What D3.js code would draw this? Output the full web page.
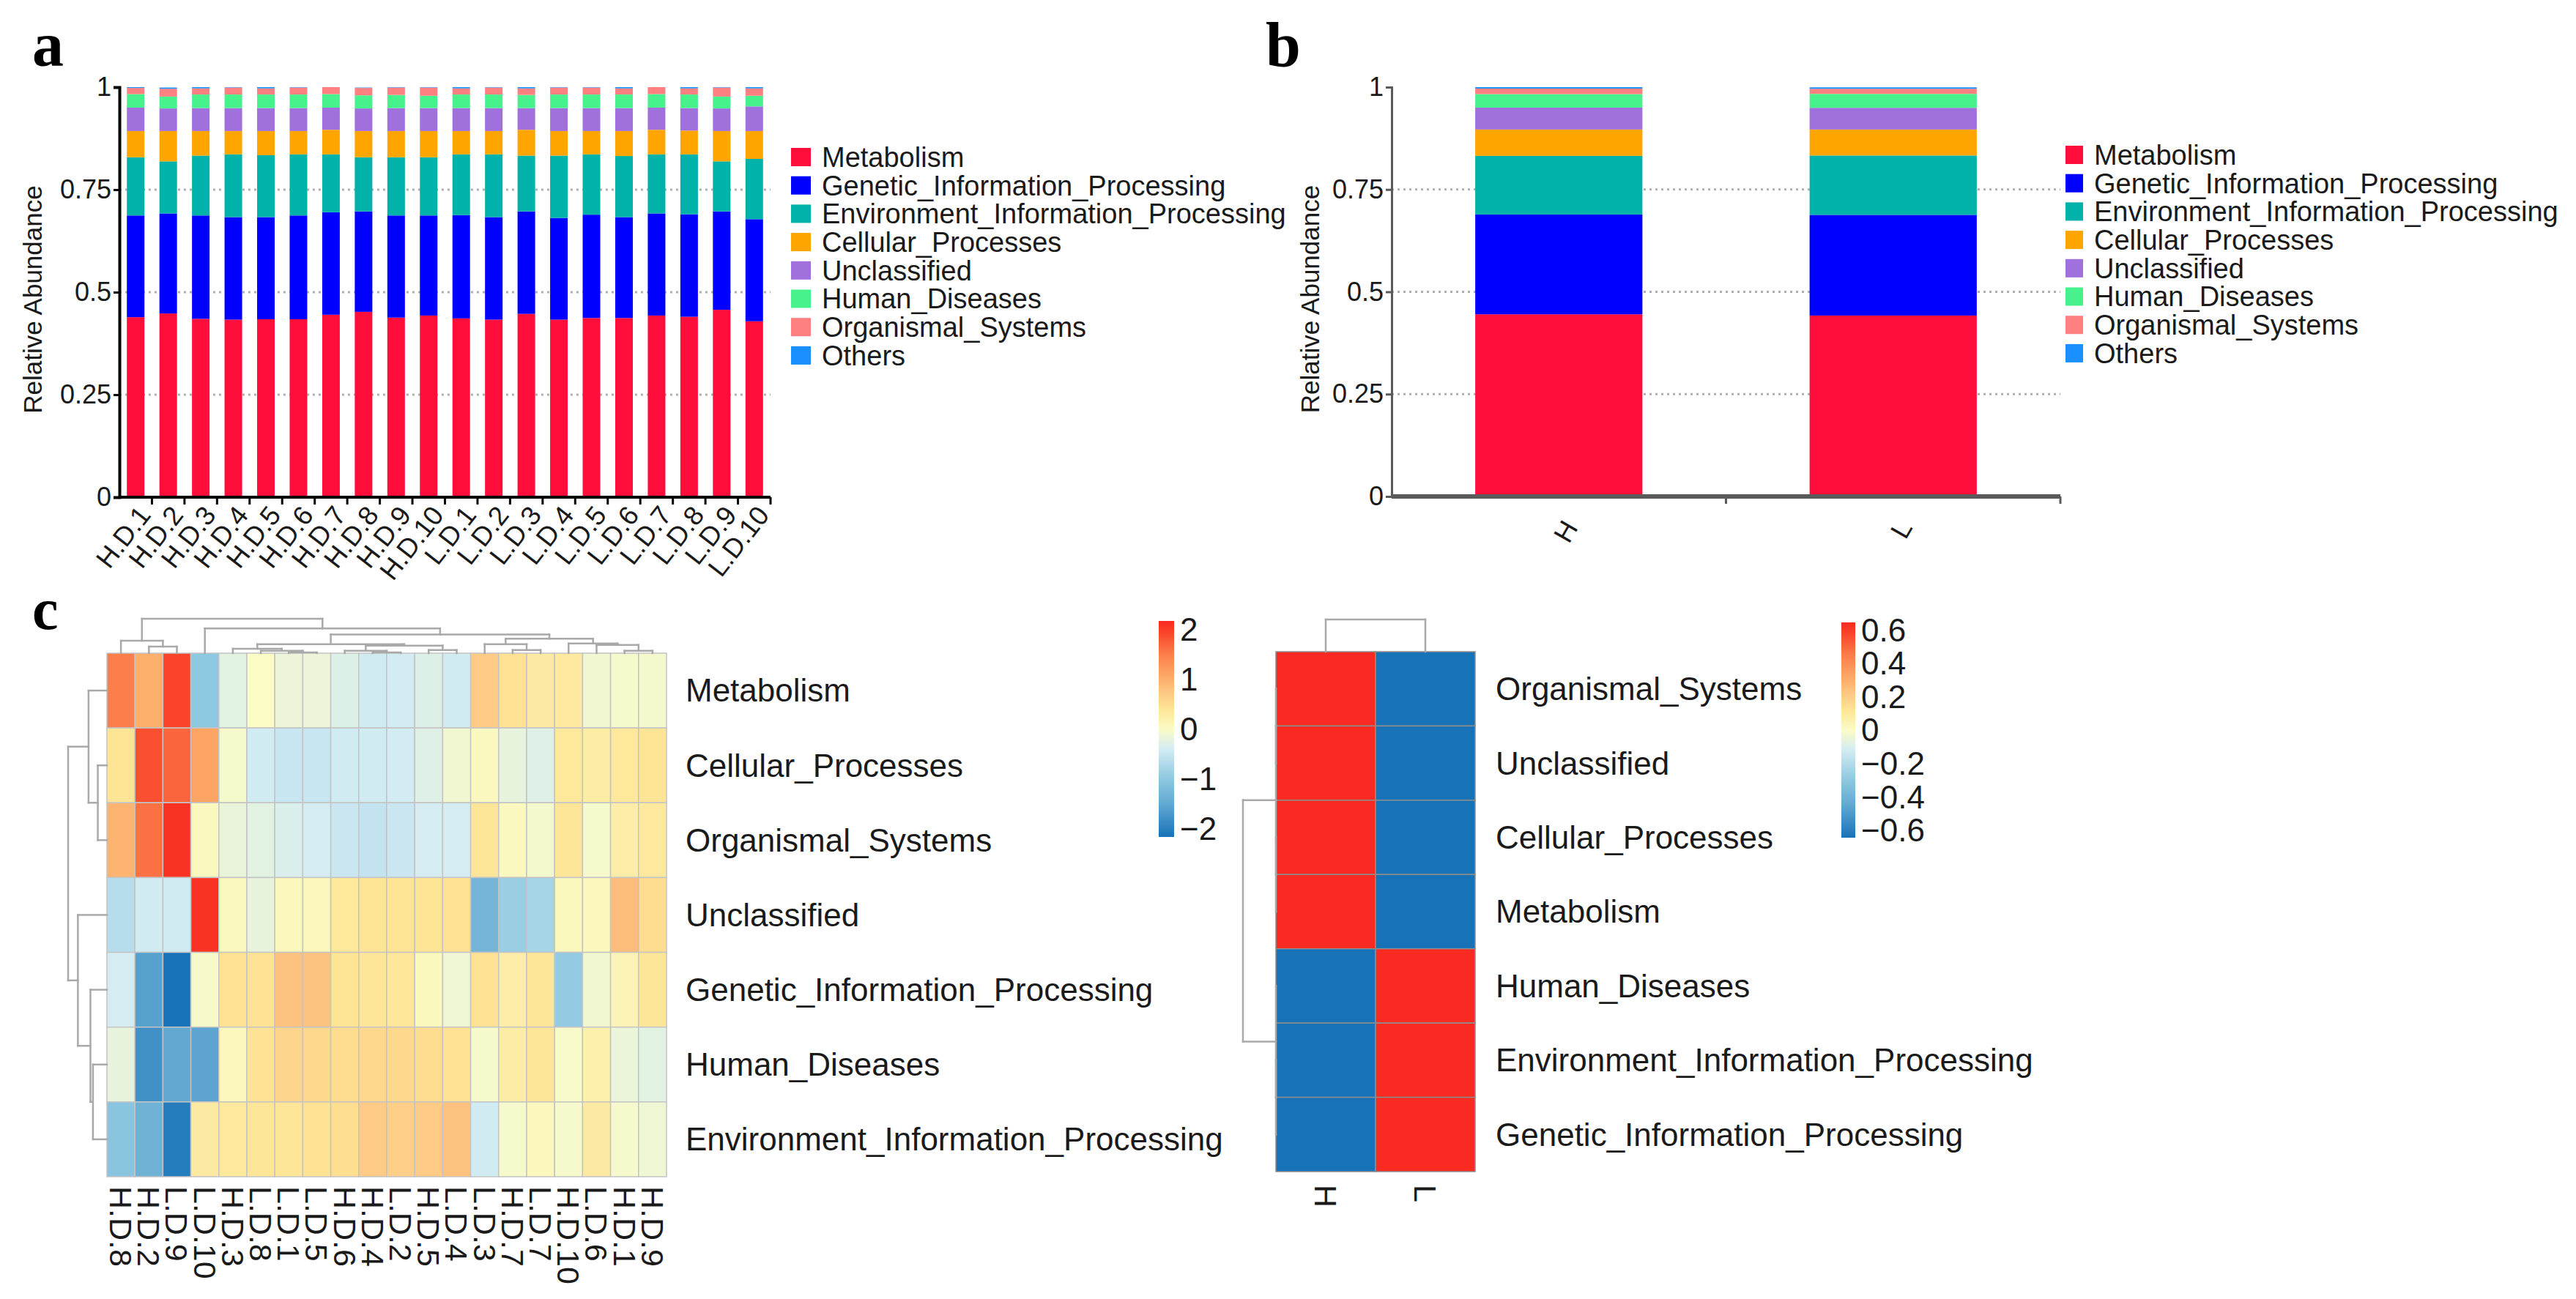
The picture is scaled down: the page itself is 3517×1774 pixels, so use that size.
<!DOCTYPE html>
<html>
<head>
<meta charset="utf-8">
<script src="https://cdn.jsdelivr.net/npm/d3@7"></script>
<style>
body { margin: 0; background: #fff; }
text { font-family: "Liberation Sans", Arial, sans-serif; fill: #1a1a1a; }
.panel { font-family: "Liberation Serif", "DejaVu Serif", serif; font-weight: bold; fill: #000; }
</style>
</head>
<body>
<div id="chart"></div>
<script>
// ---- data ----
var samples = ["H.D.1","H.D.2","H.D.3","H.D.4","H.D.5","H.D.6","H.D.7","H.D.8","H.D.9","H.D.10",
               "L.D.1","L.D.2","L.D.3","L.D.4","L.D.5","L.D.6","L.D.7","L.D.8","L.D.9","L.D.10"];
var categories = ["Metabolism","Genetic_Information_Processing","Environment_Information_Processing",
                  "Cellular_Processes","Unclassified","Human_Diseases","Organismal_Systems","Others"];
var catColors = ["#FF0D3B","#0000FF","#00B2A9","#FFA500","#A070DC","#47F28D","#FF8080","#1A8FFF"];

// relative abundance per sample (panel a)
var metabolism   = [0.439,0.448,0.435,0.433,0.434,0.434,0.445,0.452,0.438,0.443,0.436,0.433,0.447,0.433,0.437,0.437,0.443,0.440,0.457,0.429];
var genetic      = [0.248,0.244,0.252,0.250,0.249,0.253,0.250,0.245,0.249,0.244,0.252,0.250,0.250,0.248,0.252,0.246,0.249,0.250,0.240,0.249];
var environment  = [0.142,0.127,0.146,0.153,0.151,0.149,0.141,0.132,0.142,0.142,0.148,0.153,0.136,0.152,0.147,0.149,0.144,0.146,0.122,0.147];
var cellular     = [0.064,0.074,0.060,0.057,0.059,0.057,0.060,0.064,0.064,0.064,0.057,0.057,0.063,0.060,0.057,0.061,0.060,0.058,0.074,0.068];
var unclassified = [0.057,0.055,0.056,0.056,0.056,0.056,0.054,0.055,0.056,0.056,0.056,0.056,0.053,0.056,0.056,0.056,0.054,0.055,0.055,0.060];
var human        = [0.033,0.029,0.033,0.033,0.033,0.033,0.033,0.032,0.032,0.030,0.033,0.033,0.032,0.033,0.033,0.033,0.033,0.033,0.029,0.026];
var organismal   = [0.015,0.019,0.015,0.017,0.015,0.017,0.017,0.018,0.018,0.020,0.015,0.017,0.016,0.017,0.017,0.015,0.017,0.015,0.022,0.018];
var others       = [0.003,0.003,0.003,0.001,0.003,0.001,0.001,0.001,0.001,0.001,0.003,0.001,0.003,0.001,0.001,0.003,0.001,0.003,0.001,0.003];
var seriesA = [metabolism, genetic, environment, cellular, unclassified, human, organismal, others];

// group means (panel b)
var groups = ["H","L"];
var grpMetabolism = [0.445,0.442];
var grpGenetic = [0.244,0.246];
var grpEnvironment = [0.143,0.145];
var grpCellular = [0.0645,0.0635];
var grpUnclassified = [0.0535,0.053];
var grpHuman = [0.033,0.034];
var grpOrganismal = [0.0135,0.0125];
var grpOthers = [0.0035,0.0035];
var seriesB = [grpMetabolism, grpGenetic, grpEnvironment, grpCellular, grpUnclassified, grpHuman, grpOrganismal, grpOthers];

var yTicks = [0, 0.25, 0.5, 0.75, 1];
var gridTicks = [0.25, 0.5, 0.75];

// heatmap c (left): row-scaled values, columns in clustered order
var rowsL = ["Metabolism","Cellular_Processes","Organismal_Systems","Unclassified",
             "Genetic_Information_Processing","Human_Diseases","Environment_Information_Processing"];
var colsL = ["H.D.8","H.D.2","L.D.9","L.D.10","H.D.3","L.D.8","L.D.1","L.D.5","H.D.6","H.D.4",
             "L.D.2","H.D.5","L.D.4","L.D.3","H.D.7","L.D.7","H.D.10","L.D.6","H.D.1","H.D.9"];
var zMetabolism   = [1.5,1.0,1.95,-1.0,-0.25,0.0,-0.15,-0.15,-0.3,-0.42,-0.4,-0.3,-0.42,0.7,0.45,0.3,0.32,-0.1,-0.05,-0.07];
var zCellular     = [0.4,1.85,1.7,1.1,-0.05,-0.42,-0.5,-0.5,-0.42,-0.42,-0.4,-0.28,-0.1,0.05,-0.2,-0.28,0.35,0.28,0.35,0.4];
var zOrganismal   = [0.95,1.6,2.1,0.05,-0.18,-0.25,-0.33,-0.38,-0.48,-0.55,-0.48,-0.38,-0.38,0.38,0.05,-0.07,0.38,-0.05,0.25,0.33];
var zUnclassified = [-0.65,-0.42,-0.42,2.1,0.05,-0.2,0.08,0.08,0.35,0.4,0.4,0.4,0.45,-1.3,-0.9,-0.8,0.06,0.08,0.85,0.5];
var zGenetic      = [-0.38,-1.6,-2.2,-0.04,0.45,0.42,0.8,0.8,0.4,0.38,0.36,0.06,-0.12,0.45,0.25,0.38,-0.95,-0.1,0.12,0.38];
var zHuman        = [-0.2,-1.8,-1.5,-1.55,0.08,0.42,0.58,0.55,0.5,0.55,0.55,0.5,0.45,-0.05,0.28,0.38,-0.03,0.2,-0.17,-0.25];
var zEnvironment  = [-1.05,-1.35,-2.05,0.3,0.33,0.38,0.38,0.42,0.47,0.7,0.65,0.7,0.8,-0.42,-0.06,0.08,-0.06,0.3,-0.06,-0.12];
var leftZ = [zMetabolism, zCellular, zOrganismal, zUnclassified, zGenetic, zHuman, zEnvironment];
var leftTicks = [2, 1, 0, -1, -2];

// dendrograms: [height, left, right], leaves are names
var colTreeL = [1.0, [0.36, "H.D.8", [0.19, "H.D.2", "L.D.9"]],
  [0.72, "L.D.10", [0.54,
    [0.26, [0.13, "H.D.3", [0.07, "L.D.8", [0.02, "L.D.1", "L.D.5"]]],
           [0.22, [0.07, "H.D.6", [0.02, "H.D.4", "L.D.2"]], [0.09, "H.D.5", "L.D.4"]]],
    [0.42, [0.26, "L.D.3", [0.09, "H.D.7", "L.D.7"]],
           [0.28, "H.D.10", [0.24, "L.D.6", [0.07, "H.D.1", "H.D.9"]]]]]]];
var rowTreeL = [1.0, [0.474, "Metabolism", [0.235, "Cellular_Processes", "Organismal_Systems"]],
  [0.748, "Unclassified", [0.425, "Genetic_Information_Processing", [0.36, "Human_Diseases", "Environment_Information_Processing"]]]];

// heatmap c (right): group means, row-scaled
var rowsR = ["Organismal_Systems","Unclassified","Cellular_Processes","Metabolism",
             "Human_Diseases","Environment_Information_Processing","Genetic_Information_Processing"];
var colsR = ["H","L"];
var zGroupH = [0.707,0.707,0.707,0.707,-0.707,-0.707,-0.707];
var zGroupL = [-0.707,-0.707,-0.707,-0.707,0.707,0.707,0.707];
var rightTicks = [0.6, 0.4, 0.2, 0, -0.2, -0.4, -0.6];
var colTreeR = [1.0, "H", "L"];
var rowTreeR = [1.0, [0, [0, "Organismal_Systems", "Unclassified"], [0, "Cellular_Processes", "Metabolism"]],
  [0, "Human_Diseases", [0, "Environment_Information_Processing", "Genetic_Information_Processing"]]];

// colour ramp (blue - pale yellow - red)
var rampStops  = [0, 0.154, 0.27, 0.408, 0.5, 0.592, 0.684, 0.73, 0.846, 0.96, 1];
var rampColors = ["#1872B8","#62A9D2","#8EC8E0","#D3ECF4","#FBFBC5","#FEE596","#FDC27F","#FDAF6C","#FC7E4A","#F93D27","#F92A21"];

// ---- drawing ----
var svg = d3.select("#chart").append("svg").attr("width", 3517).attr("height", 1774);
var fmt = d3.format("");

function stackedPanel(g, cats, xs, ys, series, x0, x1, opts) {
  var table = cats.map(function(c, i) {
    var o = { name: c };
    categories.forEach(function(k, j) { o[k] = series[j][i]; });
    return o;
  });
  var stack = d3.stack().keys(categories)(table);

  g.selectAll(".grid").data(gridTicks).join("line")
    .attr("x1", x0).attr("x2", x1).attr("y1", ys).attr("y2", ys)
    .attr("stroke", "#b0b0b0").attr("stroke-width", 3).attr("stroke-dasharray", "3,5");

  g.selectAll(".layer").data(stack).join("g")
    .attr("fill", function(d, i) { return catColors[i]; })
    .selectAll("rect").data(function(d) { return d; }).join("rect")
    .attr("x", function(d) { return xs(d.data.name); })
    .attr("width", xs.bandwidth())
    .attr("y", function(d) { return ys(Math.min(d[1], 1)); })
    .attr("height", function(d) { return ys(d[0]) - ys(Math.min(d[1], 1)); });

  var ya = g.append("g").attr("transform", "translate(" + x0 + ",0)")
    .call(d3.axisLeft(ys).tickValues(yTicks).tickFormat(fmt).tickSize(8).tickPadding(3));
  ya.select(".domain").attr("stroke", opts.axis).attr("stroke-width", opts.yw);
  ya.selectAll(".tick line").attr("stroke", opts.axis).attr("stroke-width", 3);
  ya.selectAll("text").attr("font-size", 36).attr("fill", "#1a1a1a");

  g.append("line").attr("x1", x0).attr("x2", x1).attr("y1", ys(0)).attr("y2", ys(0))
    .attr("stroke", opts.axis).attr("stroke-width", opts.xw);
  g.selectAll(".xt").data(cats).join("line")
    .attr("x1", function(d) { return xs(d) + xs.bandwidth() / 2 + xs.step() / 2; })
    .attr("x2", function(d) { return xs(d) + xs.bandwidth() / 2 + xs.step() / 2; })
    .attr("y1", ys(0)).attr("y2", ys(0) + 10)
    .attr("stroke", opts.axis).attr("stroke-width", 3);

  g.selectAll(".xl").data(cats).join("text")
    .attr("transform", function(d) {
      return "translate(" + (xs(d) + xs.bandwidth() / 2 + opts.lx) + "," + (ys(0) + opts.ly) + ") rotate(" + opts.rot + ")";
    })
    .attr("text-anchor", "end").attr("dy", "0.35em").attr("font-size", 37)
    .text(function(d) { return d; });

  g.append("text")
    .attr("transform", "translate(" + opts.labX + "," + ((ys(0) + ys(1)) / 2 + 10) + ") rotate(-90)")
    .attr("text-anchor", "middle").attr("dy", "0.35em").attr("font-size", 35)
    .text("Relative Abundance");

  var lg = g.append("g");
  var ly = d3.scaleBand().domain(categories).range([opts.legY, opts.legY + 8 * 38.7]);
  lg.selectAll("rect").data(categories).join("rect")
    .attr("x", opts.legX).attr("y", function(d) { return ly(d) + 7; })
    .attr("width", opts.sqW).attr("height", 25)
    .attr("fill", function(d, i) { return catColors[i]; });
  lg.selectAll("text").data(categories).join("text")
    .attr("x", opts.legX + opts.sqW + 15).attr("y", function(d) { return ly(d) + 19.5; })
    .attr("dy", "0.35em").attr("font-size", 38)
    .text(function(d) { return d; });
}

// panel a
var gA = svg.append("g");
var xA = d3.scaleBand().domain(samples).range([163, 1052]).paddingInner(0.46).paddingOuter(0.23);
var yA = d3.scaleLinear().domain([0, 1]).range([679, 119]);
stackedPanel(gA, samples, xA, yA, seriesA, 163, 1052,
  { axis: "#000", yw: 4, xw: 4, lx: 12, ly: 17, rot: -52, labX: 45, legX: 1080, legY: 195, sqW: 27 });
svg.append("text").attr("class", "panel").attr("x", 44).attr("y", 90).attr("font-size", 86).text("a");

// panel b
var gB = svg.append("g");
var xB = d3.scaleBand().domain(groups).range([1900, 2813]).paddingInner(0.5).paddingOuter(0.25);
var yB = d3.scaleLinear().domain([0, 1]).range([678, 119]);
stackedPanel(gB, groups, xB, yB, seriesB, 1900, 2813,
  { axis: "#5a5a5a", yw: 3, xw: 6, lx: 16, ly: 36, rot: -60, labX: 1789, legX: 2820, legY: 192, sqW: 24 });
svg.append("text").attr("class", "panel").attr("x", 1728).attr("y", 90).attr("font-size", 86).text("b");

// panel c
svg.append("text").attr("class", "panel").attr("x", 44).attr("y", 859).attr("font-size", 80).text("c");

var defs = svg.append("defs");
function gradient(id) {
  var gr = defs.append("linearGradient").attr("id", id)
    .attr("x1", 0).attr("y1", 1).attr("x2", 0).attr("y2", 0);
  gr.selectAll("stop").data(rampStops).join("stop")
    .attr("offset", function(d) { return d; })
    .attr("stop-color", function(d, i) { return rampColors[i]; });
}
gradient("rampL");
gradient("rampR");

function rampScale(lim) {
  return d3.scaleLinear().domain(rampStops.map(function(t) { return -lim + 2 * lim * t; }))
    .range(rampColors).clamp(true);
}

function dendro(g, tree, pos, hs, top) {
  var segs = [];
  (function walk(n) {
    if (typeof n === "string") return { p: pos(n), h: 0 };
    var a = walk(n[1]), b = walk(n[2]);
    segs.push([a.p, a.h, a.p, n[0]], [a.p, n[0], b.p, n[0]], [b.p, b.h, b.p, n[0]]);
    return { p: (a.p + b.p) / 2, h: n[0] };
  })(tree);
  g.selectAll("line").data(segs).join("line")
    .attr("x1", function(s) { return top ? s[0] : hs(s[1]); })
    .attr("y1", function(s) { return top ? hs(s[1]) : s[0]; })
    .attr("x2", function(s) { return top ? s[2] : hs(s[3]); })
    .attr("y2", function(s) { return top ? hs(s[3]) : s[2]; })
    .attr("stroke", "#a9a9a9").attr("stroke-width", 2.5).attr("stroke-linecap", "square");
}

function heatmap(cfg) {
  var g = svg.append("g");
  var x = d3.scaleBand().domain(cfg.cols).range([cfg.x0, cfg.x1]);
  var y = d3.scaleBand().domain(cfg.rows).range([cfg.y0, cfg.y1]);
  var col = rampScale(cfg.lim);
  var cells = [];
  cfg.rows.forEach(function(r, i) {
    cfg.cols.forEach(function(c, j) { cells.push({ r: r, c: c, v: cfg.value(i, j) }); });
  });
  g.selectAll("rect").data(cells).join("rect")
    .attr("x", function(d) { return x(d.c); }).attr("y", function(d) { return y(d.r); })
    .attr("width", x.bandwidth()).attr("height", y.bandwidth())
    .attr("fill", function(d) { return col(d.v); })
    .attr("stroke", cfg.border).attr("stroke-width", cfg.bw);

  g.append("g").selectAll("text").data(cfg.rows).join("text")
    .attr("x", cfg.x1 + cfg.rowLabDx).attr("y", function(d) { return y(d) + y.bandwidth() / 2; })
    .attr("dy", "0.35em").attr("font-size", 44).text(function(d) { return d; });

  g.append("g").selectAll("text").data(cfg.cols).join("text")
    .attr("transform", function(d) {
      return "translate(" + (x(d) + x.bandwidth() / 2) + "," + (cfg.y1 + cfg.colLabDy) + ") rotate(90)";
    })
    .attr("dy", "0.35em").attr("font-size", 43).text(function(d) { return d; });

  dendro(g.append("g"), cfg.colTree, function(n) { return x(n) + x.bandwidth() / 2; },
    d3.scaleLinear().domain([0, 1]).range([cfg.y0, cfg.y0 - cfg.colTreeH]), true);
  dendro(g.append("g"), cfg.rowTree, function(n) { return y(n) + y.bandwidth() / 2; },
    d3.scaleLinear().domain([0, 1]).range([cfg.x0, cfg.x0 - cfg.rowTreeH]), false);

  // colour key
  var ky = d3.scaleLinear().domain([-cfg.lim, cfg.lim]).range([cfg.keyY1, cfg.keyY0]);
  g.append("rect").attr("x", cfg.keyX).attr("y", cfg.keyY0)
    .attr("width", cfg.keyW).attr("height", cfg.keyY1 - cfg.keyY0)
    .attr("fill", "url(#" + cfg.grad + ")");
  g.append("g").selectAll("text").data(cfg.ticks).join("text")
    .attr("x", cfg.keyX + cfg.keyW + 8).attr("y", function(d) { return ky(d); })
    .attr("dy", "0.35em").attr("font-size", 44)
    .text(function(d) { return d < 0 ? "\u2212" + fmt(-d) : fmt(d); });
}

heatmap({
  rows: rowsL, cols: colsL, value: function(i, j) { return leftZ[i][j]; },
  x0: 146, x1: 910, y0: 892, y1: 1607, lim: 2.17, border: "#c4c4c4", bw: 1.5,
  rowLabDx: 26, colLabDy: 13, colTree: colTreeL, rowTree: rowTreeL, colTreeH: 47, rowTreeH: 53,
  keyX: 1582, keyW: 21, keyY0: 848, keyY1: 1143, ticks: leftTicks, grad: "rampL"
});

heatmap({
  rows: rowsR, cols: colsR, value: function(i, j) { return j === 0 ? zGroupH[i] : zGroupL[i]; },
  x0: 1742, x1: 2014, y0: 890, y1: 1600, lim: 0.645, border: "#8d8d8d", bw: 1.5,
  rowLabDx: 28, colLabDy: 18, colTree: colTreeR, rowTree: rowTreeR, colTreeH: 44, rowTreeH: 45,
  keyX: 2514, keyW: 19, keyY0: 850, keyY1: 1144, ticks: rightTicks, grad: "rampR"
});
</script>
</body>
</html>
